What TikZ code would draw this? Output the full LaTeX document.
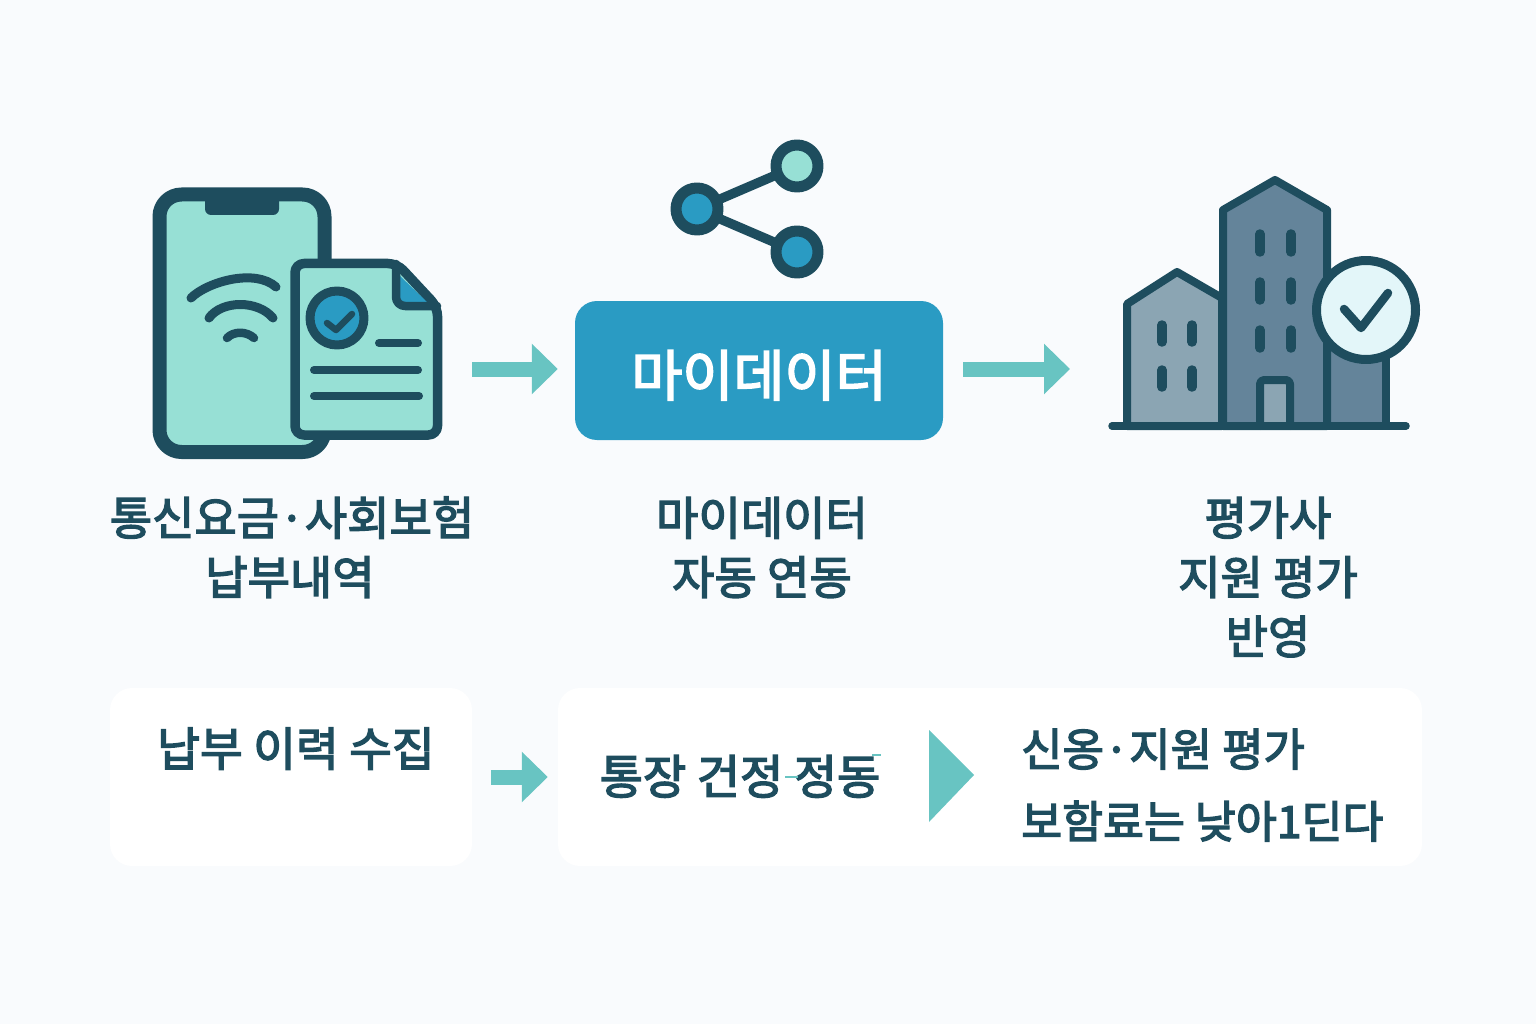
\documentclass[tikz,border=0pt]{standalone}
\usepackage{fontspec}
\usepackage{xcolor}
\usepackage{tikz}
\usetikzlibrary{arrows.meta}
\usetikzlibrary{positioning}
\setmainfont[FakeBold=3]{Noto Sans CJK KR}
\definecolor{pagebg}{HTML}{F9FBFD}
\definecolor{inkdark}{HTML}{1E4D5E}
\definecolor{mintfill}{HTML}{97E0D5}
\definecolor{bluefill}{HTML}{2A9BC3}
\definecolor{arrowteal}{HTML}{68C4C2}
\definecolor{towerfill}{HTML}{64849A}
\definecolor{housefill}{HTML}{8BA5B3}
\definecolor{badgefill}{HTML}{E3F6F9}
\tikzset{
  ink/.style={draw=inkdark, line join=round, line cap=round},
  bar/.style={ink, line width=#1},
  flowarrow/.style={draw=arrowteal, line width=15pt, -{Triangle[length=26pt, width=49pt]}},
  hub/.style={circle, ink, line width=11pt, minimum size=42pt, inner sep=0pt},
  panel/.style={rounded corners=22pt, fill=white, inner sep=0pt},
  caption/.style={text=inkdark, inner sep=0pt, font=\fontsize{46}{46}\selectfont, text height=41pt, text depth=5pt},
}
\begin{document}
\begin{tikzpicture}[x=1pt, y=-1pt, node distance=13pt]
  \useasboundingbox (0,0) rectangle (1536,1024);
  \fill[pagebg] (0,0) rectangle (1536,1024);

  % phone
  \draw[ink, line width=14pt, fill=mintfill, rounded corners=22pt] (159.5,194.5) rectangle (324.5,452);
  \fill[inkdark, rounded corners=6pt] (205,190) -- (205,215) -- (279,215) -- (279,190) -- cycle;
  \draw[bar=9pt] (191,298) .. controls (207,282) and (255,268) .. (276,287);
  \draw[bar=9pt] (209,318) .. controls (222,300) and (258,300) .. (273,318);
  \draw[bar=8.5pt] (227,338) .. controls (234,331) and (246,331) .. (254,338);

  % document
  \draw[ink, line width=9.5pt, fill=mintfill, rounded corners=9pt] (295,263.5) -- (397,263.5) -- (437.5,307) -- (437.5,435) -- (295,435) -- cycle;
  \fill[bluefill] (400,276) -- (427,302) -- (400,302) -- cycle;
  \draw[ink, line width=8.5pt, rounded corners=9pt] (396,264) -- (396,306) -- (437,306);
  \draw[ink, line width=9pt, fill=bluefill] (337,318) circle (27);
  \draw[bar=6.5pt] (327,323) -- (336,330) -- (352,314);
  \draw[bar=8pt] (379,343) -- (418,343);
  \draw[bar=8pt] (314,370) -- (418,370);
  \draw[bar=8pt] (314,396) -- (419,396);

  % share symbol
  \node[hub, fill=bluefill] (shareA) at (697,209) {};
  \node[hub, fill=mintfill] (shareB) at (797,166) {};
  \node[hub, fill=bluefill] (shareC) at (797,252) {};
  \draw[bar=9.5pt] (shareA) -- (shareB);
  \draw[bar=9.5pt] (shareA) -- (shareC);

  % main box
  \node[rounded corners=22pt, fill=bluefill, minimum width=368pt, minimum height=139pt, inner sep=0pt,
        text=white, font=\fontsize{55.5}{55.5}\selectfont, text height=51pt, text depth=0pt] (mydata) at (759,370.5) {마이데이터};

  % buildings
  \draw[ink, line width=8pt, fill=towerfill] (1327,340) -- (1386,340) -- (1386,426) -- (1327,426) -- cycle;
  \draw[ink, line width=8pt, fill=housefill] (1127,426) -- (1127,304) -- (1177,272) -- (1222,298) -- (1222,426) -- cycle;
  \draw[ink, line width=8pt, fill=towerfill] (1223,426) -- (1223,210) -- (1275,180) -- (1327,210) -- (1327,426) -- cycle;
  \foreach \px in {1260,1291}
    \foreach \py in {234,282,330}
      \draw[bar=9.5pt] (\px,\py) -- (\px,\py+18);
  \foreach \px in {1162,1192}
    \foreach \py in {325,370}
      \draw[bar=9.5pt] (\px,\py) -- (\px,\py+17);
  \draw[ink, line width=8pt, fill=housefill, rounded corners=4pt] (1260,426) -- (1260,380) -- (1290,380) -- (1290,426);
  \draw[ink, line width=9pt, fill=badgefill] (1366,310) circle (49.5);
  \draw[bar=8.5pt] (1344,309) -- (1361,328) -- (1388,293);
  \draw[bar=7.5pt] (1112,426) -- (1406,426);

  % upper arrows
  \coordinate (phoneEnd) at (472,369);
  \coordinate (buildingEnd) at (1070,369);
  \draw[flowarrow, shorten >=17pt] (phoneEnd) -- (mydata.west |- phoneEnd);
  \draw[flowarrow, shorten <=20pt] (mydata.east |- buildingEnd) -- (buildingEnd);

  % upper captions
  \node[caption] (payTop) at (292,517) {통신요금·사회보험};
  \node[caption, below=of payTop, xshift=-2pt] (payLow) {납부내역};
  \node[caption] (linkTop) at (762,517) {마이데이터};
  \node[caption, below=of linkTop] (linkLow) {자동 연동};
  \node[caption] (evalTop) at (1268,517) {평가사};
  \node[caption, below=of evalTop] (evalMid) {지원 평가};
  \node[caption, below=of evalMid] (evalLow) {반영};

  % lower panels
  \node[panel, minimum width=362pt, minimum height=178pt] (collectBox) at (291,777) {};
  \node[panel, minimum width=864pt, minimum height=178pt] (resultBox) at (990,777) {};
  \draw[flowarrow, shorten <=19pt, shorten >=10pt] (collectBox.east) -- (resultBox.west);
  \fill[arrowteal] (929,730) -- (974,775) -- (929,822) -- cycle;

  \node[caption, font=\fontsize{46.5}{46.5}\selectfont] (collectText) at (296,748) {납부 이력 수집};
  \node[caption, font=\fontsize{47}{47}\selectfont] (accountText) at (740,776) {통장 건정 정동};
  \draw[arrowteal, line width=1.5pt] (785,777) -- (798,777);
  \draw[arrowteal, line width=1.5pt] (872,755) -- (881,755);
  \node[caption, anchor=west, font=\fontsize{45}{45}\selectfont] (creditText) at (1021,748) {신옹·지원 평가};
  \node[caption, anchor=west, font=\fontsize{44.5}{44.5}\selectfont] (rateText) at (1021,820) {보함료는 낮아1딘다};
\end{tikzpicture}
\end{document}
